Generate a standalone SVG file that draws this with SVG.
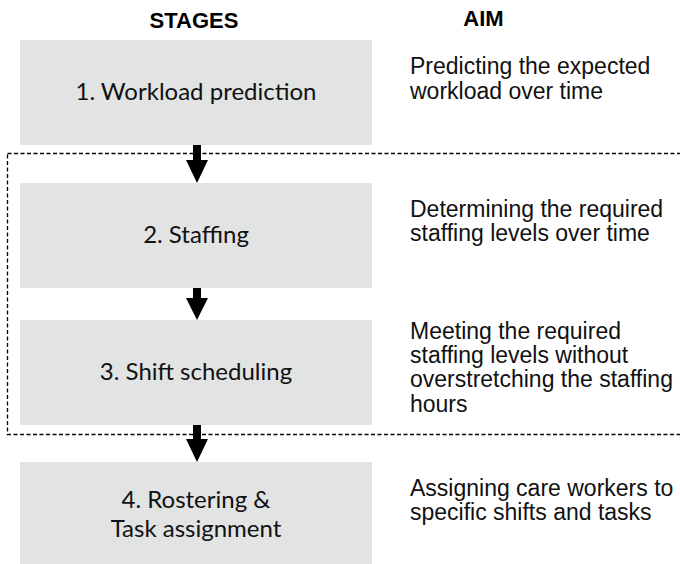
<svg xmlns="http://www.w3.org/2000/svg" width="680" height="564" viewBox="0 0 680 564">
  <style>
    .head { font-family: "Liberation Sans", Arial, sans-serif; font-weight: bold; font-size: 22px; fill: #000; text-anchor: middle; }
    .stage { fill: #e2e3e3; }
    .label { font-family: Lato, "Open Sans", sans-serif; font-size: 24px; fill: #111; text-anchor: middle; }
    .aim { font-family: "Liberation Sans", Arial, sans-serif; font-size: 23px; fill: #111; }
    .frame { fill: none; stroke: #000; stroke-width: 1.3; stroke-dasharray: 4 2.5; }
    .arrow { fill: #000; }
  </style>

  <text class="head" x="194" y="28">STAGES</text>
  <text class="head" x="483.5" y="26">AIM</text>

  <!-- dashed frame around stages 2 and 3 -->
  <rect class="frame" x="7.5" y="153.5" width="690" height="281"/>

  <g id="stage1">
    <rect class="stage" x="20" y="40" width="352" height="105"/>
    <text class="label" x="196" y="100">1. Workload prediction</text>
    <text class="aim" x="410" y="74">Predicting the expected</text>
    <text class="aim" x="410" y="99">workload over time</text>
  </g>

  <g id="stage2">
    <rect class="stage" x="20" y="183" width="352" height="105"/>
    <text class="label" x="196" y="243">2. Staffing</text>
    <text class="aim" x="410" y="217">Determining the required</text>
    <text class="aim" x="410" y="241">staffing levels over time</text>
  </g>

  <g id="stage3">
    <rect class="stage" x="20" y="320" width="352" height="105"/>
    <text class="label" x="196" y="380">3. Shift scheduling</text>
    <text class="aim" x="410" y="339">Meeting the required</text>
    <text class="aim" x="410" y="363">staffing levels without</text>
    <text class="aim" x="410" y="387">overstretching the staffing</text>
    <text class="aim" x="410" y="412">hours</text>
  </g>

  <g id="stage4">
    <rect class="stage" x="20" y="462" width="352" height="102"/>
    <text class="label" x="196" y="508">4. Rostering &amp;</text>
    <text class="label" x="196" y="537">Task assignment</text>
    <text class="aim" x="410" y="496">Assigning care workers to</text>
    <text class="aim" x="410" y="520">specific shifts and tasks</text>
  </g>

  <g id="connectors">
    <path class="arrow" d="M193,145 H201 V160 H208 L197,183 L186,160 H193 Z"/>
    <path class="arrow" d="M193,288 H201 V298 H208 L197,320 L186,298 H193 Z"/>
    <path class="arrow" d="M193,425 H201 V439 H208 L197,462 L186,439 H193 Z"/>
  </g>
</svg>
